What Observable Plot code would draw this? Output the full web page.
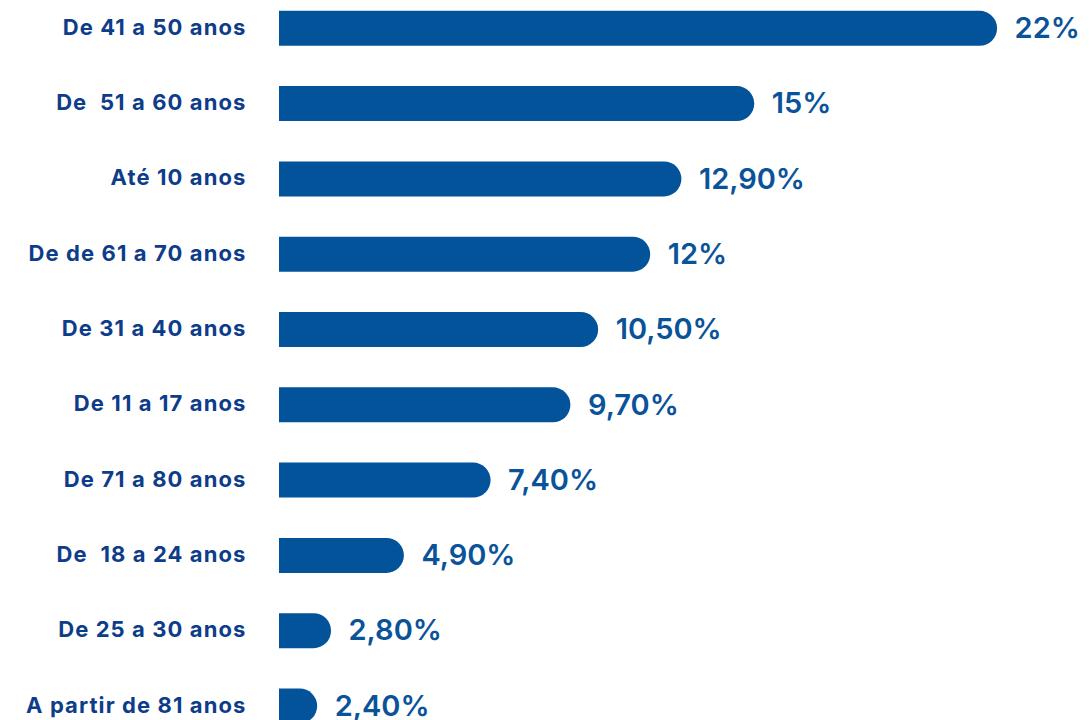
<!DOCTYPE html>
<html>
<head>
<meta charset="utf-8">
<script src="https://cdn.jsdelivr.net/npm/d3@7"></script>
<script src="https://cdn.jsdelivr.net/npm/@observablehq/plot@0.6"></script>
<style>
  html, body { margin: 0; padding: 0; background: #ffffff; }
  #chart { width: 1089px; height: 720px; overflow: hidden; }
  svg { display: block; }
</style>
</head>
<body>
<div id="chart"></div>
<script>
const categories = [
  "De 41 a 50 anos",
  "De  51 a 60 anos",
  "Até 10 anos",
  "De de 61 a 70 anos",
  "De 31 a 40 anos",
  "De 11 a 17 anos",
  "De 71 a 80 anos",
  "De  18 a 24 anos",
  "De 25 a 30 anos",
  "A partir de 81 anos"
];
const values = [22, 15, 12.9, 12, 10.5, 9.7, 7.4, 4.9, 2.8, 2.4];
const valueLabels = ["22%", "15%", "12,90%", "12%", "10,50%", "9,70%", "7,40%", "4,90%", "2,80%", "2,40%"];

const data = categories.map((c, i) => ({label: c, value: values[i], text: valueLabels[i]}));

const barColor = "#02539a";
const catColor = "#0d3d8a";
const valColor = "#0a5399";

const chart = Plot.plot({
  width: 1089,
  height: 720,
  marginLeft: 279,
  marginRight: 0,
  marginTop: 0,
  marginBottom: 0,
  style: {fontFamily: "Inter, 'Open Sans', sans-serif", background: "#ffffff"},
  x: {domain: [1.3, 24.65], axis: null},
  y: {domain: categories, range: [10.8, 723.5], paddingInner: 0.5352, paddingOuter: 0, round: false, axis: null},
  marks: [
    Plot.barX(data, {x1: 0, x2: "value", y: "label", fill: barColor, rx: 17.5, clip: true}),
    Plot.text(data, {
      y: "label", text: "label", frameAnchor: "left", textAnchor: "end", dx: -33, dy: -1,
      fontSize: 22, fontWeight: 700, fill: catColor
    }),
    Plot.text(data, {
      x: "value", y: "label", text: "text", textAnchor: "start", dx: 17, dy: 0,
      fontSize: 29, fontWeight: 600, fill: valColor
    })
  ]
});
// widen the category labels to match the reference's wider typeface
d3.select(chart).selectAll('g[aria-label="text"]')
  .filter((d, i) => i === 0)
  .selectAll("text")
  .style("letter-spacing", "1.1px");
document.getElementById("chart").appendChild(chart);
</script>
</body>
</html>
